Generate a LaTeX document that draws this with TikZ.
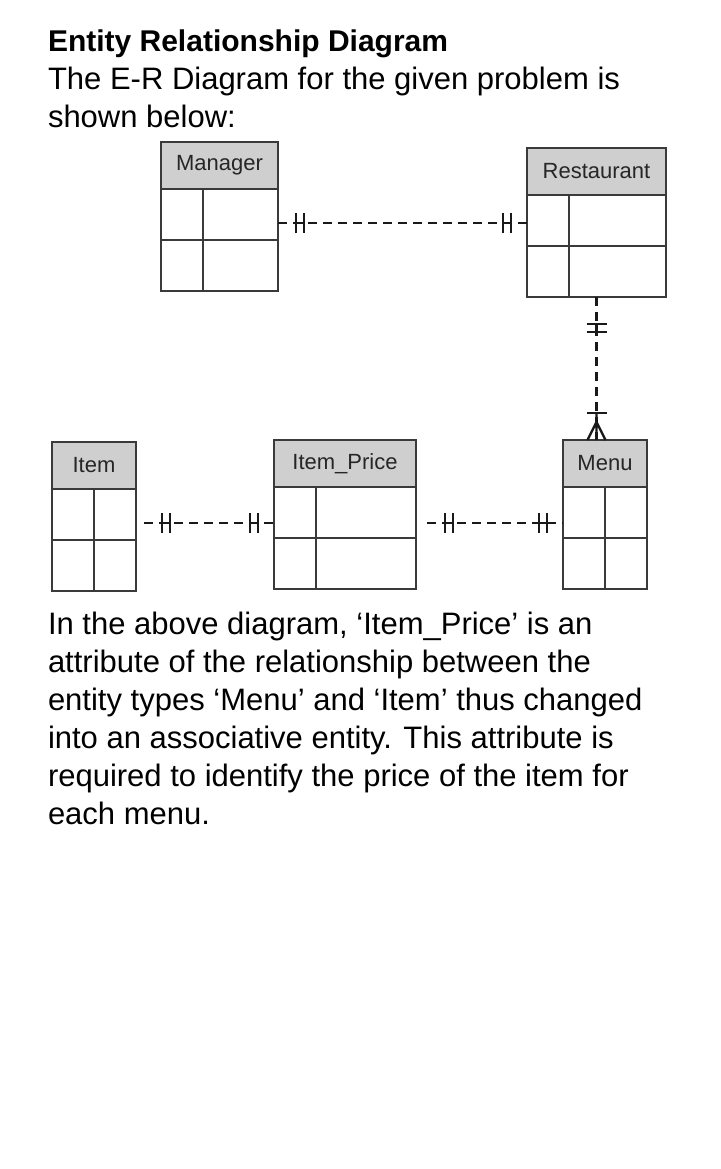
\documentclass[tikz,border=0pt]{standalone}
\usepackage{fontspec}
\setmainfont{Liberation Sans}
\usepackage{tikz}
\usetikzlibrary{positioning}
\usetikzlibrary{decorations.markings}

\definecolor{hdrgray}{HTML}{CFCFCF}
\definecolor{linegray}{HTML}{3A3A3A}

\begin{document}
\begin{tikzpicture}[x=1pt,y=-1pt,
  every node/.style={inner sep=0pt,outer sep=0pt},
  hdr/.style={draw=linegray,fill=hdrgray,line width=1.6pt,minimum height=47pt,
    text=black!85,font=\fontsize{22}{24}\selectfont},
  body/.style={draw=linegray,line width=1.6pt,minimum height=102pt},
  grid/.style={draw=linegray,line width=1.4pt},
  bar/.style={solid,line width=2.4pt,draw=black!90},
  rel/.style={dash pattern=on 9pt off 6pt,line width=2.2pt,draw=black!90},
  oneone/.style={postaction={decorate},decoration={markings,
    mark=at position 22pt with {\draw[bar] (-4pt,-10pt) -- (-4pt,10pt) (4pt,-10pt) -- (4pt,10pt) (-4pt,0) -- (4pt,0);},
    mark=at position -20pt with {\draw[bar] (-4pt,-10pt) -- (-4pt,10pt) (4pt,-10pt) -- (4pt,10pt) (-4pt,0) -- (4pt,0);}}},
  onemany/.style={postaction={decorate},decoration={markings,
    mark=at position 31pt with {\draw[bar] (-4pt,-10pt) -- (-4pt,10pt) (4pt,-10pt) -- (4pt,10pt) (-4pt,0) -- (4pt,0);},
    mark=at position -27pt with {\draw[bar] (0,-10pt) -- (0,10pt);},
    mark=at position -18pt with {\draw[bar] (-9pt,0) -- (0,0) -- (18pt,9pt) (0,0) -- (18pt,0) (0,0) -- (18pt,-9pt);}}}]

  \fill[white] (0,0) rectangle (720,1169);
  \useasboundingbox (0,0) rectangle (720,1169);

  \node[anchor=base west,font=\bfseries\fontsize{30}{38}\selectfont] (title) at (48,52) {Entity Relationship Diagram};
  % base of a two-line node = last line
  \node[anchor=base west,align=left,font=\fontsize{31}{38}\selectfont] (intro) at (48,128)
    {The E-R Diagram for the given problem is\\shown below:};

  % entities
  \node[hdr,minimum width=117pt,anchor=north west] (manager) at (161,142) {Manager};
  \node[body,minimum width=117pt,below=0pt of manager] (managerbody) {};

  \node[hdr,minimum width=139pt,anchor=north west] (restaurant) at (527,148) {Restaurant};
  \node[body,minimum width=139pt,below=0pt of restaurant] (restaurantbody) {};

  \node[hdr,minimum width=84pt,anchor=north west] (item) at (52,442) {Item};
  \node[body,minimum width=84pt,below=0pt of item] (itembody) {};

  \node[hdr,minimum width=142pt,anchor=north west] (itemprice) at (274,440) {Item\_Price};
  \node[body,minimum width=142pt,below=0pt of itemprice] (itempricebody) {};

  \node[hdr,minimum width=84pt,anchor=north west] (menu) at (563,440) {Menu};
  \node[body,minimum width=84pt,below=0pt of menu] (menubody) {};

  \draw[grid](managerbody.west)--(managerbody.east);
  \draw[grid]([xshift=42pt]managerbody.north west)--([xshift=42pt]managerbody.south west);
  \draw[grid](restaurantbody.west)--(restaurantbody.east);
  \draw[grid]([xshift=42pt]restaurantbody.north west)--([xshift=42pt]restaurantbody.south west);
  \draw[grid](itembody.west)--(itembody.east);
  \draw[grid]([xshift=42pt]itembody.north west)--([xshift=42pt]itembody.south west);
  \draw[grid](itempricebody.west)--(itempricebody.east);
  \draw[grid]([xshift=42pt]itempricebody.north west)--([xshift=42pt]itempricebody.south west);
  \draw[grid](menubody.west)--(menubody.east);
  \draw[grid]([xshift=42pt]menubody.north west)--([xshift=42pt]menubody.south west);

  % relationships
  \draw[rel,oneone]([yshift=17pt]managerbody.east) coordinate (mr)--(mr -| restaurantbody.west);
  \draw[rel,onemany](restaurantbody.south)--(restaurantbody.south |- menu.north);
  \draw[rel,oneone]([xshift=8pt,yshift=17pt]itembody.east) coordinate (ii)--(ii -| itempricebody.west);
  \draw[rel,oneone]([xshift=11pt,yshift=15pt]itempricebody.east) coordinate (im)--(im -| menubody.west);

  \node[anchor=base west,align=left,font=\fontsize{31}{38}\selectfont] (remark) at (48,824)
    {In the above diagram, ‘Item\_Price’ is an\\
     attribute of the relationship between the\\
     entity types ‘Menu’ and ‘Item’ thus changed\\
     into an associative entity. This attribute is\\
     required to identify the price of the item for\\
     each menu.};
\end{tikzpicture}
\end{document}
